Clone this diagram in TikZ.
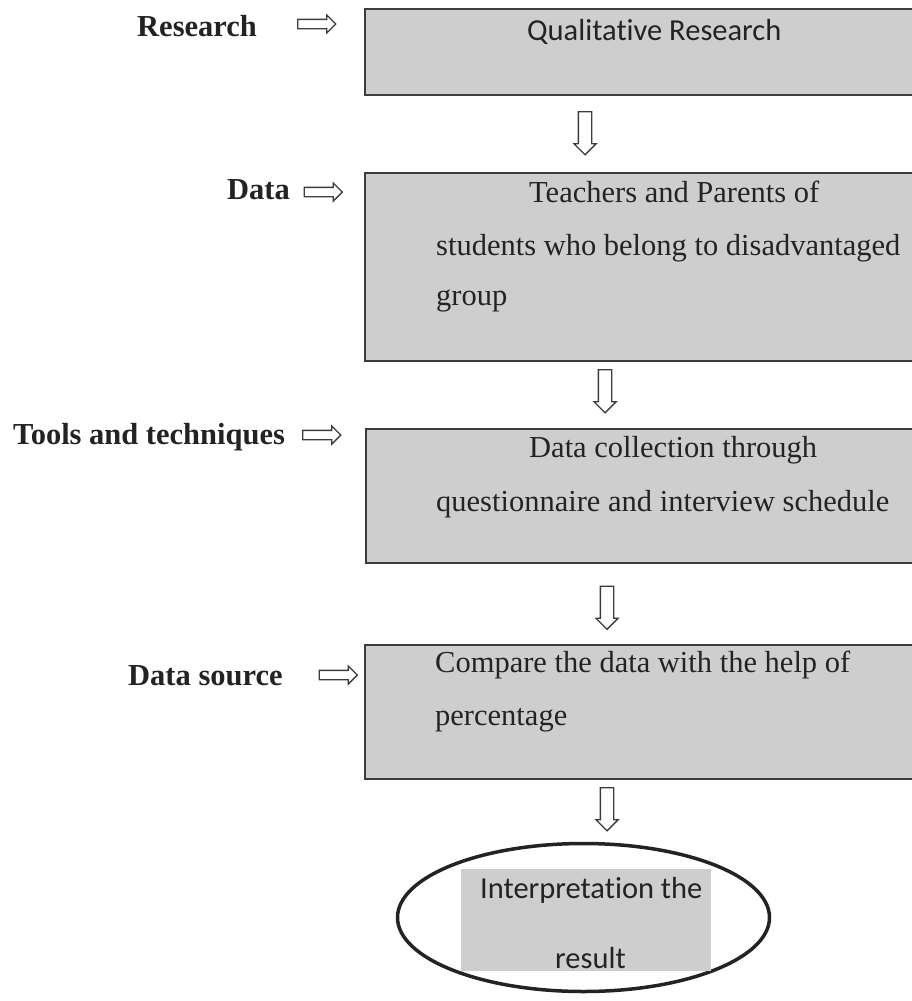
\documentclass[tikz,border=0pt]{standalone}
\usepackage{fontspec}
\setmainfont{Liberation Serif}
\newfontfamily\calibfont[Ligatures=NoCommon]{Carlito}
\usetikzlibrary{shapes.arrows,shapes.geometric}
\definecolor{boxgray}{RGB}{206,206,206}
\definecolor{boxline}{RGB}{60,60,60}
\definecolor{inkgray}{RGB}{35,35,35}
\tikzset{
  stagebox/.style={draw=boxline, fill=boxgray, line width=1.5pt, anchor=north west, inner sep=0pt, minimum width=606pt},
  boxtext/.style={anchor=base west, inner sep=0pt, text=inkgray, font=\fontsize{30.5}{36}\selectfont},
  calibtext/.style={boxtext, font=\calibfont\fontsize{30.5}{36}\selectfont},
  stagelabel/.style={boxtext, font=\fontsize{30.5}{36}\selectfont\bfseries},
  downarrow/.style={single arrow, draw=boxline, fill=white, line width=1.3pt, inner sep=6pt, minimum height=43pt, minimum width=22pt, single arrow head extend=4.5pt, rotate=-90},
  sidearrow/.style={single arrow, draw=boxline, fill=white, line width=1.3pt, inner sep=4pt, minimum height=38pt, minimum width=17pt, single arrow head extend=4.5pt}
}
\begin{document}
\begin{tikzpicture}[x=1pt,y=-1pt]
			\clip (0,0) rectangle (912,1001);
			% stage boxes
			\node[stagebox, minimum height=86pt] (research) at (364,8) {};
			\node[stagebox, minimum height=188pt] (data) at (364,172) {};
			\node[stagebox, minimum height=134pt] (tools) at (365,428) {};
			\node[stagebox, minimum height=134pt] (source) at (364,644) {};
			% labels on the left
			\node[stagelabel] (researchlbl) at (137,36) {Research};
			\node[stagelabel] (datalbl) at (227,199) {Data};
			\node[stagelabel] (toolslbl) at (13,444) {Tools and techniques};
			\node[stagelabel] (sourcelbl) at (128,685) {Data source};
			\node[sidearrow] (researchin) at (314.5,24) {};
			\node[sidearrow] (datain) at (321,192) {};
			\node[sidearrow] (toolsin) at (319.5,435) {};
			\node[sidearrow] (sourcein) at (336,675) {};
			% box texts
			\node[calibtext] (researchtxt) at (527,40) {Qualitative Research};
			\node[boxtext] (datatxtA) at (529,202) {Teachers and Parents of};
			\node[boxtext] (datatxtB) at (436,255) {students who belong to disadvantaged};
			\node[boxtext] (datatxtC) at (436,305) {group};
			\node[boxtext] (toolstxtA) at (529,457) {Data collection through};
			\node[boxtext] (toolstxtB) at (436,511) {questionnaire and interview schedule};
			\node[boxtext] (sourcetxtA) at (435,672) {Compare the data with the help of};
			\node[boxtext] (sourcetxtB) at (435,725) {percentage};
			% arrows down
			\node[downarrow] (stepA) at (585,130) {};
			\node[downarrow] (stepB) at (605,388) {};
			\node[downarrow] (stepC) at (607,604.5) {};
			\node[downarrow] (stepD) at (607,806) {};
			% result
			\node[ellipse, draw=inkgray, line width=3.5pt, minimum width=372pt, minimum height=148pt] (result) at (583.5,917.5) {};
			\node[fill=boxgray, minimum width=250pt, minimum height=102pt, inner sep=0pt] (resultbox) at (586,920) {};
			\node[calibtext] (resulttxtA) at (480,898) {Interpretation the};
			\node[calibtext] (resulttxtB) at (555,968) {result};
\end{tikzpicture}
\end{document}
